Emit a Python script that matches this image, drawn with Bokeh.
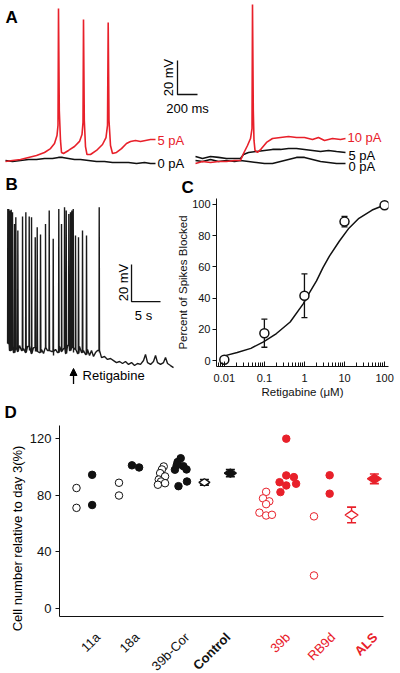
import numpy as np
from bokeh.plotting import figure
from bokeh.layouts import column, row
from bokeh.models import Range1d, Label, FixedTicker, Arrow, NormalHead, CustomJSTickFormatter, Title
from bokeh.embed import file_html
from bokeh.resources import INLINE

FONT = "Liberation Sans"
RED = "#e8202a"
BLACK = "#111111"

# ---------------- Panel A data (time in ms, voltage in mV rel. rest) ----------------
a_left_0pA_t = [0, 70, 150, 230, 310, 390, 470, 530, 570, 630, 690, 750, 830, 910, 990, 1070, 1150, 1230, 1310, 1390, 1450, 1500]
a_left_0pA_v = [0.6, 0, 0.6, 1.2, 1.2, 1.8, 1.8, 2.4, 2.4, 1.8, 1.2, 1.2, 0.6, 0, 0, -0.6, -0.6, -0.6, -1.2, -0.6, -1.2, -1.2]
a_left_5pA_t = [0, 70, 150, 230, 310, 390, 450, 490, 515, 525, 530, 538, 550, 560, 580, 630, 690, 740, 765, 775,
                780, 788, 800, 815, 850, 910, 970, 1005, 1020, 1027, 1035, 1050, 1070, 1110, 1160, 1210, 1250, 1300,
                1350, 1400, 1450, 1500]
a_left_5pA_v = [0, 0.6, 1.2, 2.4, 3.5, 5.3, 7.6, 10.6, 15.3, 21.2, 90, 30, 12.4, 5.3, 4.7, 6.5, 8.8, 11.8, 15.9, 22.9,
                83.5, 24.1, 8.8, 4.1, 4.1, 6.5, 10, 14.1, 21.2, 81.8, 24.1, 9.4, 4.7, 5.3, 7.6, 10.6, 11.8, 12.4,
                11.8, 12.4, 12.9, 12.9]
a_right_0pA_t = [0, 70, 150, 230, 310, 390, 450, 530, 610, 690, 770, 850, 930, 1010, 1090, 1170, 1250, 1330, 1410, 1500]
a_right_0pA_v = [0.6, 0, 1.2, 0, 0.6, 0, 0.6, 0, -0.6, -1.2, -1.2, 0, 1.2, 2.4, 2.4, 1.2, 0, -0.6, -1.2, -1.2]
a_right_5pA_t = [0, 70, 150, 230, 310, 390, 450, 480, 530, 610, 690, 770, 850, 930, 1010, 1090, 1170, 1250, 1330, 1410, 1500]
a_right_5pA_v = [2.9, 1.8, 2.9, 2.4, 1.8, 1.8, 1.8, 4.1, 5.3, 5.9, 6.5, 7.1, 7.1, 7.6, 7.6, 7.1, 6.5, 5.9, 6.5, 5.9, 5.3]
a_right_10pA_t = [0, 70, 150, 230, 310, 390, 450, 480, 520, 550, 565, 570, 578, 585, 595, 620, 660, 710, 770, 850,
                  930, 1010, 1090, 1170, 1230, 1290, 1370, 1450, 1500]
a_right_10pA_v = [-1.2, 0, -0.6, 0, 0, 0.6, 0.6, 4.7, 9.4, 13.5, 19.4, 92.4, 30, 12.4, 6.5, 5.3, 7.6, 11.2, 13.5, 14.1,
                  14.7, 14.1, 14.1, 12.9, 14.1, 12.4, 13.5, 12.9, 13.5]
a_right_offset = 1900  # ms, horizontal placement of the second recording

# ---------------- Panel B data (time in s, voltage in mV) ----------------
b_base_t = [0.0, 0.34, 0.69, 1.03, 1.38, 1.72, 2.07, 2.41, 2.76, 3.10, 3.45, 3.79, 4.14, 4.48, 4.83, 5.17, 5.52,
            5.86, 6.21, 6.55, 6.90, 7.24, 7.59, 7.93, 8.28, 8.62, 8.97, 9.31, 9.66, 10.0, 10.34, 10.69, 11.03,
            11.38, 11.72, 12.07, 12.41, 12.76, 13.10, 13.45, 13.79, 14.14, 14.48, 14.83, 15.17, 15.52, 15.86,
            16.21, 16.72, 17.24, 17.76, 18.28, 18.79, 19.31, 19.83, 20.34, 20.86, 21.38, 21.9, 22.41, 22.93,
            23.45, 23.79, 24.14, 24.66, 25.17, 25.52, 25.86, 26.38, 26.9, 27.24, 27.59, 28.1, 28.62]
b_base_v = [2.7, -1.1, 1.1, -2.2, 0.5, -1.6, 1.6, -1.1, 0, -2.2,
            1.1, -1.1, -2.7, 0.5, -1.6, 1.6, -2.2, -0.5, -2.7, 0.5,
            -1.1, 2.2, -1.6, -3.8, -0.5, -2.2, 1.1, -1.6, 0, -2.7,
            1.6, -1.1, 0.5, -2.2, -0.5, -2.7, 1.1, -2.2, -1.1, -3.2,
            -0.5, -3.8, -1.1, -4.3, -2.2, -1.1, -2.2,
            -4.9, -4.3, -5.9, -5.4, -6.5, -7.6, -7.0, -8.1, -7.0, -8.6, -7.6, -9.2, -8.1, -8.6,
            -6.5, -3.2, -7.6, -8.6, -7.0, -3.8, -7.6, -8.6, -7.6, -4.9, -8.1, -9.2, -10.3]
b_spike_t = [0.05, 0.22, 0.40, 0.64, 0.86, 1.21, 1.43, 1.78, 2.59, 3.16, 3.74, 4.14, 4.78, 5.12, 5.69, 6.55,
             7.19, 7.88, 8.84, 9.31, 9.83, 10.12, 10.57, 10.86, 11.09, 11.33, 11.72, 12.24, 12.93, 13.62, 15.81]
b_spike_v = [75.5, 75.5, 74.6, 75.1, 73.7, 67.4, 71.0, 63.8, 71.4, 73.7, 71.4, 71.0, 60.2, 65.6, 61.6, 67.4,
             74.6, 59.3, 75.5, 67.4, 76.4, 74.6, 72.8, 73.7, 74.6, 75.5, 61.1, 60.2, 63.8, 61.1, 76.4]
b_drug_time = 11.38  # s, retigabine application

# ---------------- Panel C data ----------------
c_conc = [0.01, 0.1, 1, 10, 100]
c_blocked = [0.5, 17.5, 41.5, 89.0, 99.5]
c_sem = [0.0, 9.0, 14.0, 3.4, 0.0]
c_fit_conc = [0.01, 0.021, 0.046, 0.095, 0.2, 0.44, 0.93, 1.35, 2.0, 2.9, 4.2, 7.4, 12.9, 22.9, 49, 100]
c_fit_val = [3.0, 5.1, 7.8, 12.0, 17.3, 24.7, 36.3, 43.7, 51.0, 59.5, 66.9, 76.4, 84.8, 91.1, 96.4, 99.6]
c_major = [0.01, 0.1, 1, 10, 100]

# ---------------- Panel D data ----------------
d_categories = ["11a", "18a", "39b-Cor", "Control", "39b", "RB9d", "ALS"]
d_label_colors = [BLACK, BLACK, BLACK, BLACK, RED, RED, RED]
d_label_bold = [False, False, False, True, False, False, True]
d_11a_open = [85.0, 71.0]
d_11a_filled = [94.3, 73.0]
d_18a_open = [88.7, 79.7]
d_18a_filled = [101.0, 99.5]
d_39bcor_open = [100.2, 98.1, 95.5, 93.2, 91.0, 89.6, 87.3, 88.4]
d_39bcor_filled = [106.0, 103.3, 97.9, 100.4, 98.1, 86.3, 89.6, 101.0]
d_39b_open = [82.3, 77.7, 75.6, 73.6, 67.6, 65.6, 66.1]
d_39b_filled = [119.8, 93.9, 92.7, 89.1, 86.8, 88.0, 82.1]
d_rb9d_open = [65.0, 23.3]
d_rb9d_filled = [94.0, 81.0]
d_control_mean = [89.0, 95.5]   # open, filled
d_control_sem = [2.0, 2.5]
d_als_mean = [66.0, 91.5]
d_als_sem = [5.5, 3.4]

# layout of the strip plot (category positions and in-cluster spread)
d_open_x = [0.38, 1.33, 2.29, 3.24, 4.62, 5.69, 6.53]
d_filled_x = [0.73, 1.70, 2.73, 3.82, 5.11, 6.04, 7.04]
d_label_x = [0.90, 1.77, 2.88, 3.79, 5.12, 6.12, 7.06]
jit_39bcor_open = [0.04, 0, -0.04, 0.07, -0.07, -0.02, -0.09, 0.07]
jit_39bcor_filled = [-0.02, -0.09, -0.15, 0.04, 0.11, -0.07, 0.12, -0.11]
jit_39b_open = [0, -0.07, 0.07, 0, -0.15, 0, 0.13]
jit_39b_filled = [-0.04, -0.04, 0.13, -0.19, -0.04, 0.18, -0.17]
jit_18a_filled = [-0.08, 0.08]

COMMON = dict(output_backend="svg", toolbar_location=None, frame_align=False)


def clean(p):
    p.outline_line_color = None
    p.xgrid.visible = False
    p.ygrid.visible = False
    p.background_fill_color = "white"
    p.border_fill_color = "white"


def lab(p, x, y, text, size="13px", color="black", align="left", baseline="middle", angle=0.0, bold=False):
    p.add_layout(Label(x=x, y=y, text=text, text_font=FONT, text_font_size=size, text_color=color,
                       text_align=align, text_baseline=baseline, angle=angle,
                       text_font_style="bold" if bold else "normal"))


def letter(p, text, offset, standoff):
    p.add_layout(Title(text=text, align="left", offset=offset, standoff=standoff, text_font=FONT,
                       text_font_size="17px", text_font_style="bold", text_color="black"), "above")


# ================= Panel A =================
pa = figure(width=400, height=174, x_range=Range1d(-50, 3950), y_range=Range1d(-7.65, 94.7),
            x_axis_location=None, y_axis_location=None, min_border=0, **COMMON)
clean(pa)
pa.line(a_left_0pA_t, a_left_0pA_v, color=BLACK, line_width=1.6)
pa.line(a_left_5pA_t, a_left_5pA_v, color=RED, line_width=1.6)
pa.line([t + a_right_offset for t in a_right_0pA_t], a_right_0pA_v, color=BLACK, line_width=1.6)
pa.line([t + a_right_offset for t in a_right_5pA_t], a_right_5pA_v, color=BLACK, line_width=1.6)
pa.line([t + a_right_offset for t in a_right_10pA_t], a_right_10pA_v, color=RED, line_width=1.6)
A_T0, A_V0 = 1720, 39.4
pa.line([A_T0, A_T0, A_T0 + 200], [A_V0 + 20, A_V0, A_V0], color=BLACK, line_width=1.3)
lab(pa, 1625, 49.4, "20 mV", align="center", angle=np.pi / 2)
lab(pa, 1820, 31.2, "200 ms", align="center")
lab(pa, 1520, 12.4, "5 pA", color=RED)
lab(pa, 1520, -1.2, "0 pA")
lab(pa, 3420, 14.1, "10 pA", color=RED)
lab(pa, 3430, 3.5, "5 pA")
lab(pa, 3430, -2.9, "0 pA")
lab(pa, 0, 90.5, "A", size="17px", baseline="top", bold=True)

# ================= Panel B =================
pb = figure(width=174, height=226, x_range=Range1d(-1.21, 28.79), y_range=Range1d(-28.1, 94.1),
            x_axis_location=None, y_axis_location=None, min_border=0, **COMMON)
clean(pb)
pts = list(zip(b_base_t, b_base_v))
for ts, vs in zip(b_spike_t, b_spike_v):
    i = max(j for j, t in enumerate(b_base_t) if t <= ts)
    foot = b_base_v[i]
    pts += [(ts - 0.04, foot), (ts, vs), (ts + 0.06, foot)]
pts.sort(key=lambda q: q[0])
pb.line([q[0] for q in pts], [q[1] for q in pts], color="#1a1a1a", line_width=1.4)
B_T0, B_V0 = 21.38, 25.4
pb.line([B_T0, B_T0, B_T0 + 5], [B_V0 + 20, B_V0, B_V0], color=BLACK, line_width=1.3)
lab(pb, 20.0, 35.7, "20 mV", align="center", angle=np.pi / 2)
lab(pb, 23.45, 17.8, "5 s", align="center")
pb.add_layout(Arrow(end=NormalHead(size=7, fill_color="black", line_color="black"),
                    x_start=b_drug_time, y_start=-19.2, x_end=b_drug_time, y_end=-10.8,
                    line_width=1.3, line_color="black"))
lab(pb, 12.93, -14.8, "Retigabine")
lab(pb, -0.34, 93.8, "B", size="17px", baseline="top", bold=True)

# ================= Panel C =================
pc = figure(width=226, height=226, x_axis_type="log", x_range=Range1d(0.00638, 125.3),
            y_range=Range1d(-3.82, 103.8), min_border_left=38, min_border_right=12,
            min_border_top=23, min_border_bottom=34, **COMMON)
clean(pc)
pc.line(c_fit_conc, c_fit_val, color=BLACK, line_width=1.5)
lo = [m - s for m, s in zip(c_blocked, c_sem)]
hi = [m + s for m, s in zip(c_blocked, c_sem)]
pc.segment(x0=c_conc, y0=lo, x1=c_conc, y1=hi, color=BLACK, line_width=1.3)
pc.scatter(c_conc + c_conc, lo + hi, marker="dash", size=6, line_color=BLACK, line_width=1.3)
pc.scatter(c_conc, c_blocked, size=9, fill_color="white", line_color=BLACK, line_width=1.5)
xa = pc.xaxis[0]
xa.ticker = FixedTicker(ticks=c_major, minor_ticks=[k * 10.0 ** e for e in range(-3, 3) for k in range(2, 10)])
xa.formatter = CustomJSTickFormatter(code="return String(Number(tick.toPrecision(6)));")
xa.major_tick_in = 5
xa.major_tick_out = 0
xa.minor_tick_in = 4
xa.minor_tick_out = 0
xa.major_label_standoff = 7
xa.axis_label = "Retigabine (μM)"
xa.axis_label_standoff = 1
ya = pc.yaxis[0]
ya.ticker = FixedTicker(ticks=[0, 20, 40, 60, 80, 100])
ya.major_tick_out = 4
ya.major_tick_in = 0
ya.major_label_standoff = 2
ya.axis_label = "Percent of Spikes Blocked"
ya.axis_label_standoff = 0
for ax in (xa, ya):
    ax.axis_line_color = BLACK
    ax.major_tick_line_color = BLACK
    ax.major_label_text_font = FONT
    ax.major_label_text_font_size = "11px"
    ax.major_label_text_color = BLACK
    ax.axis_label_text_font = FONT
    ax.axis_label_text_font_size = "11.5px"
    ax.axis_label_text_font_style = "normal"
    ax.axis_label_text_color = BLACK
xa.minor_tick_line_color = BLACK
ya.minor_tick_line_color = None
letter(pc, "C", -35, 3)

# ================= Panel D =================
# narrow strip on the left for the panel letter and the y-axis title (no data)
py = figure(width=26, height=273, x_range=Range1d(0, 26), y_range=Range1d(0, 273),
            x_axis_location=None, y_axis_location=None, min_border=0, **COMMON)
clean(py)
lab(py, 4, 271, "D", size="17px", baseline="top", bold=True)
lab(py, 17, 135, "Cell number relative to day 3(%)", align="center", angle=np.pi / 2)

pd_ = figure(width=374, height=220, x_range=Range1d(0, 7.244), y_range=Range1d(-5.65, 129.1),
             min_border_left=31, min_border_right=17, min_border_top=25, min_border_bottom=4, **COMMON)
clean(pd_)


def strip(xc, vals, jit, color, filled):
    xs = [xc + j for j in jit] if jit else [xc] * len(vals)
    pd_.scatter(xs, vals, size=7.5, line_color=color, line_width=1.0,
                fill_color=color if filled else "white")


strip(d_open_x[0], d_11a_open, None, BLACK, False)
strip(d_filled_x[0], d_11a_filled, None, BLACK, True)
strip(d_open_x[1], d_18a_open, None, BLACK, False)
strip(d_filled_x[1], d_18a_filled, jit_18a_filled, BLACK, True)
strip(d_open_x[2], d_39bcor_open, jit_39bcor_open, BLACK, False)
strip(d_filled_x[2], d_39bcor_filled, jit_39bcor_filled, BLACK, True)
strip(d_open_x[4], d_39b_open, jit_39b_open, RED, False)
strip(d_filled_x[4], d_39b_filled, jit_39b_filled, RED, True)
strip(d_open_x[5], d_rb9d_open, None, RED, False)
strip(d_filled_x[5], d_rb9d_filled, None, RED, True)


def mean_bar(x, m, s, color, filled, size):
    pd_.segment(x0=[x], y0=[m - s], x1=[x], y1=[m + s], color=color, line_width=1.4)
    pd_.scatter([x, x], [m - s, m + s], marker="dash", size=9, line_color=color, line_width=1.6)
    pd_.scatter([x], [m], marker="diamond", angle=np.pi / 2, size=size, line_color=color, line_width=1.3,
                fill_color=color if filled else "white")


mean_bar(d_open_x[3], d_control_mean[0], d_control_sem[0], BLACK, False, 11)
mean_bar(d_filled_x[3], d_control_mean[1], d_control_sem[1], BLACK, True, 12)
mean_bar(d_open_x[6], d_als_mean[0], d_als_sem[0], RED, False, 13)
mean_bar(d_filled_x[6], d_als_mean[1], d_als_sem[1], RED, True, 14)

dx = pd_.xaxis[0]
dx.ticker = FixedTicker(ticks=[])
dx.axis_line_color = BLACK
dx.major_tick_out = 0
dx.major_tick_in = 0
dx.major_label_standoff = 0
dy = pd_.yaxis[0]
dy.ticker = FixedTicker(ticks=[0, 40, 80, 120])
dy.major_tick_out = 4
dy.major_tick_in = 0
dy.minor_tick_line_color = None
dy.major_label_standoff = 4
dy.axis_line_color = BLACK
dy.major_tick_line_color = BLACK
dy.major_label_text_font = FONT
dy.major_label_text_font_size = "13px"
dy.major_label_text_color = BLACK

# category labels, drawn in a strip under panel D that shares its x scale
pl = figure(width=374, height=53, x_range=pd_.x_range, y_range=Range1d(-45.9, -8.47),
            x_axis_location=None, y_axis_location=None, min_border_left=31, min_border_right=17,
            min_border_top=0, min_border_bottom=0, **COMMON)
clean(pl)
for name, xe, col, bold in zip(d_categories, d_label_x, d_label_colors, d_label_bold):
    lab(pl, xe, -18.7, name, size="13px", color=col, align="right", angle=np.pi / 4, bold=bold)

layout = column(pa, row(pb, pc), row(py, column(pd_, pl)))
open("out.html", "w").write(file_html(layout, INLINE))
